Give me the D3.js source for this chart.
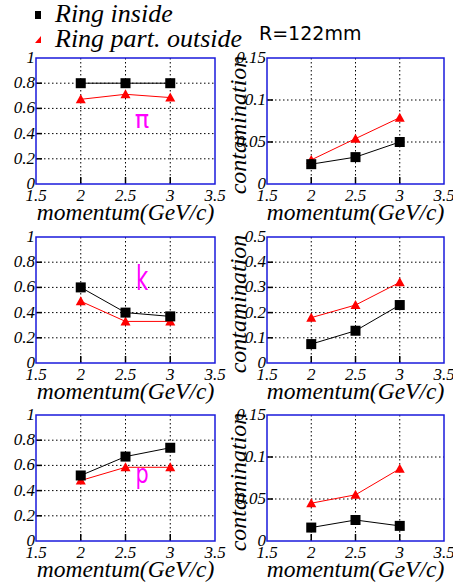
<!DOCTYPE html>
<html>
<head>
<meta charset="utf-8">
<script src="https://cdn.jsdelivr.net/npm/d3@7"></script>
<style>
body { margin: 0; background: #fff; }
</style>
</head>
<body>
<div id="chart"></div>
<script>
// data
const momentum = [2, 2.5, 3];
const xTicks = [1.5, 2, 2.5, 3, 3.5];
const effTicks = [0, 0.2, 0.4, 0.6, 0.8, 1];
const contTicksSmall = [0, 0.05, 0.1, 0.15];
const contTicksK = [0, 0.1, 0.2, 0.3, 0.4, 0.5];
const particles = ["π", "k", "p"];

const piEffInside = [0.8, 0.8, 0.8];
const piEffOutside = [0.672, 0.712, 0.686];
const piContInside = [0.0236, 0.032, 0.050];
const piContOutside = [0.0287, 0.054, 0.079];

const kEffInside = [0.60, 0.40, 0.37];
const kEffOutside = [0.49, 0.33, 0.33];
const kContInside = [0.075, 0.128, 0.23];
const kContOutside = [0.18, 0.23, 0.32];

const pEffInside = [0.52, 0.67, 0.74];
const pEffOutside = [0.48, 0.585, 0.585];
const pContInside = [0.016, 0.025, 0.018];
const pContOutside = [0.045, 0.055, 0.086];

const W = 453, H = 585;
const svg = d3.select("#chart").append("svg").attr("width", W).attr("height", H);

// helper: serif italic text
function serifText(sel, size) {
  return sel.style("font-family", "Liberation Serif").style("font-style", "italic")
    .style("font-size", size + "px").attr("fill", "#000");
}

// legend
svg.append("rect").attr("x", 35).attr("y", 11).attr("width", 6).attr("height", 8).attr("fill", "#000");
svg.append("path").attr("d", "M35,43 L41,43 L41,36 Z").attr("fill", "red");
serifText(svg.append("text").attr("x", 55).attr("y", 22), 26).text("Ring inside");
serifText(svg.append("text").attr("x", 55).attr("y", 47), 26).text("Ring part. outside");
svg.append("text").attr("x", 259).attr("y", 40).style("font-family", "DejaVu Sans")
  .style("font-size", "19px").text("R=122mm");

const rowTops = [58, 237, 415];
const panelH = 126;
const cols = [{x0: 36, x1: 215}, {x0: 267, x1: 444}];

const panels = [
  {row: 0, col: 0, ticks: effTicks, inside: piEffInside, outside: piEffOutside, label: particles[0]},
  {row: 0, col: 1, ticks: contTicksSmall, inside: piContInside, outside: piContOutside},
  {row: 1, col: 0, ticks: effTicks, inside: kEffInside, outside: kEffOutside, label: particles[1]},
  {row: 1, col: 1, ticks: contTicksK, inside: kContInside, outside: kContOutside},
  {row: 2, col: 0, ticks: effTicks, inside: pEffInside, outside: pEffOutside, label: particles[2]},
  {row: 2, col: 1, ticks: contTicksSmall, inside: pContInside, outside: pContOutside}
];

// particle label placement (baseline y, font size, horizontal squeeze)
const labelPos = [
  {y: 128, size: 24, sx: 1},
  {y: 290, size: 34, sx: 0.62},
  {y: 483, size: 26, sx: 0.8}
];

panels.forEach(p => {
  const c = cols[p.col];
  const top = rowTops[p.row], bottom = top + panelH;
  const x = d3.scaleLinear().domain([1.5, 3.5]).range([c.x0, c.x1]);
  const y = d3.scaleLinear().domain([p.ticks[0], p.ticks[p.ticks.length - 1]]).range([bottom, top]);
  const g = svg.append("g");

  // dotted grid
  g.selectAll(".gx").data(xTicks.slice(1, -1)).enter().append("line")
    .attr("x1", d => x(d)).attr("x2", d => x(d)).attr("y1", top).attr("y2", bottom)
    .attr("stroke", "#000").attr("stroke-width", 1).attr("stroke-dasharray", "1.5,2.5");
  g.selectAll(".gy").data(p.ticks.slice(1, -1)).enter().append("line")
    .attr("x1", c.x0).attr("x2", c.x1).attr("y1", d => y(d)).attr("y2", d => y(d))
    .attr("stroke", "#000").attr("stroke-width", 1).attr("stroke-dasharray", "1.5,2.5");

  // tick marks (inward)
  g.selectAll(".tx").data(xTicks.slice(1, -1)).enter().append("line")
    .attr("x1", d => x(d)).attr("x2", d => x(d)).attr("y1", bottom - 7).attr("y2", bottom)
    .attr("stroke", "#000").attr("stroke-width", 1.5);
  g.selectAll(".ty").data(p.ticks.slice(1, -1)).enter().append("line")
    .attr("x1", c.x0).attr("x2", c.x0 + 6).attr("y1", d => y(d)).attr("y2", d => y(d))
    .attr("stroke", "#000").attr("stroke-width", 1.5);

  // frame
  g.append("rect").attr("x", c.x0).attr("y", top).attr("width", c.x1 - c.x0).attr("height", panelH)
    .attr("fill", "none").attr("stroke", "#1a1adc").attr("stroke-width", 1.5);

  // tick labels
  serifText(g.selectAll(".lx").data(xTicks).enter().append("text"), 17)
    .attr("x", d => x(d)).attr("y", bottom + 17).attr("text-anchor", "middle")
    .text(d => String(d));
  serifText(g.selectAll(".ly").data(p.ticks).enter().append("text"), 17)
    .attr("x", c.x0 - 1).attr("y", d => y(d) + 5).attr("text-anchor", "end")
    .text(d => String(d));

  // axis titles
  serifText(g.append("text"), 23.5).attr("x", (c.x0 + c.x1) / 2).attr("y", bottom + 36)
    .attr("text-anchor", "middle").text("momentum(GeV/c)");
  if (p.col === 1) {
    serifText(g.append("text"), 24)
      .attr("transform", `translate(${c.x0 - 21},${(top + bottom) / 2 + 4}) rotate(-90)`)
      .attr("text-anchor", "middle").text("contamination");
  }

  // series
  const line = d3.line().x((d, i) => x(momentum[i])).y(d => y(d));
  g.append("path").datum(p.outside).attr("d", line).attr("fill", "none").attr("stroke", "red").attr("stroke-width", 1);
  g.append("path").datum(p.inside).attr("d", line).attr("fill", "none").attr("stroke", "#000").attr("stroke-width", 1);

  g.selectAll(".tri").data(p.outside).enter().append("path")
    .attr("transform", (d, i) => `translate(${x(momentum[i])},${y(d)})`)
    .attr("d", "M-5,4 L5,4 L0,-5 Z").attr("fill", "red");
  g.selectAll(".sq").data(p.inside).enter().append("rect")
    .attr("x", (d, i) => x(momentum[i]) - 5).attr("y", d => y(d) - 5)
    .attr("width", 10).attr("height", 10).attr("fill", "#000");

  if (p.label) {
    const lp = labelPos[p.row];
    g.append("text").attr("transform", `translate(142,${lp.y}) scale(${lp.sx},1)`)
      .attr("text-anchor", "middle")
      .style("font-family", "DejaVu Sans").style("font-size", lp.size + "px")
      .attr("fill", "#ff00ff").text(p.label);
  }
});
</script>
</body>
</html>
